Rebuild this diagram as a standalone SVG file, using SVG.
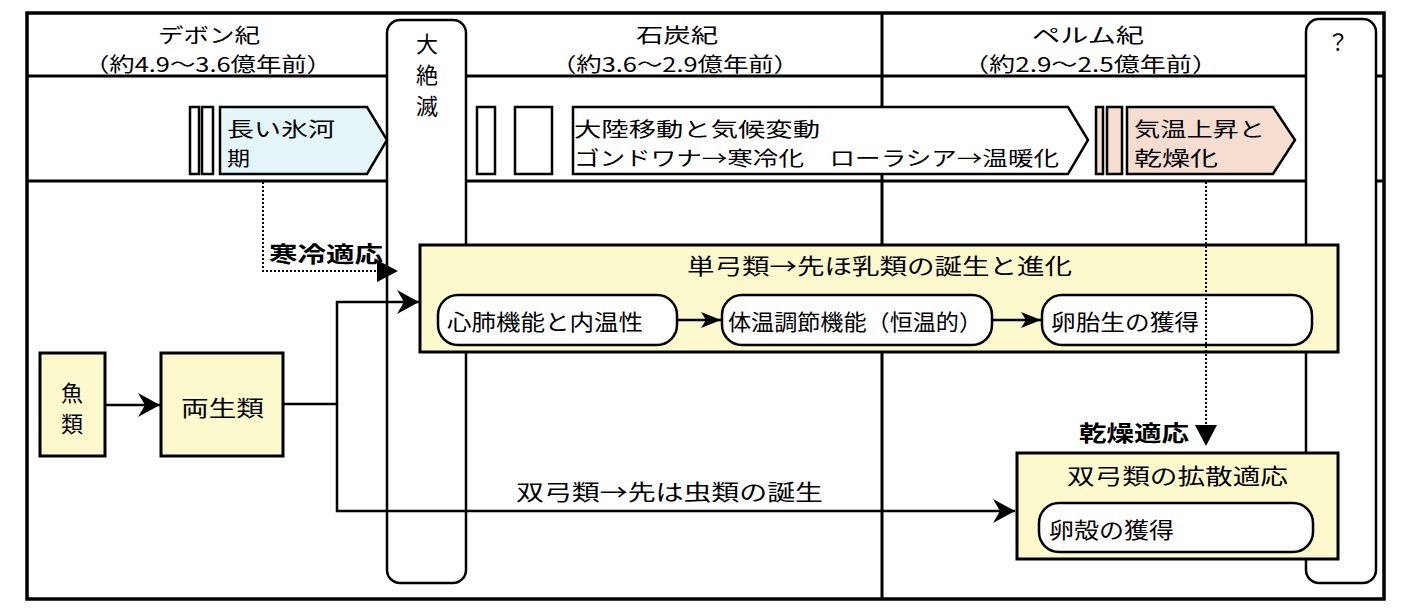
<svg xmlns="http://www.w3.org/2000/svg" width="1403" height="616" viewBox="0 0 1403 616">
<defs>
<style>
text{font-family:"Noto Sans CJK JP","Noto Sans",sans-serif;font-size:22px;fill:#000}
.h{font-size:20px}
.b{font-weight:bold}
.ln{stroke:#000;stroke-width:3;fill:none}
.box{stroke:#000;stroke-width:3;fill:#FCF9CD}
.pill{stroke:#000;stroke-width:2.5;fill:#fff}
.col{stroke:#000;stroke-width:2.5;fill:#fff}
.c{stroke:#000;stroke-width:2.5;fill:none}
.dot{stroke:#000;stroke-width:2;fill:none;stroke-dasharray:2 2}
</style>
<marker id="st" markerUnits="userSpaceOnUse" markerWidth="24" markerHeight="26" refX="22" refY="12" orient="auto">
<path d="M0,0 L22,12 L0,24 L7,12 z" fill="#000"/>
</marker>
<marker id="sts" markerUnits="userSpaceOnUse" markerWidth="22" markerHeight="18" refX="20" refY="8" orient="auto">
<path d="M0,0 L20,8 L0,16 L5,8 z" fill="#000"/>
</marker>
<marker id="tri" markerUnits="userSpaceOnUse" markerWidth="24" markerHeight="24" refX="21" refY="11" orient="auto">
<path d="M0,0 L21,11 L0,22 z" fill="#000"/>
</marker>
</defs>

<g id="frame">
<rect x="27" y="13" width="1357" height="586" fill="#fff" stroke="#000" stroke-width="3.5"/>
<line class="ln" x1="27" y1="76" x2="1384" y2="76"/>
<line class="ln" x1="27" y1="181" x2="1384" y2="181"/>
<line class="ln" x1="882" y1="13" x2="882" y2="599" stroke-width="2.5"/>
</g>

<g id="headers">
<text class="h" x="158" y="43" textLength="102" lengthAdjust="spacingAndGlyphs">デボン紀</text>
<text class="h" x="84" y="72" textLength="248" lengthAdjust="spacingAndGlyphs">（約4.9〜3.6億年前）</text>
<text class="h" x="636" y="43" textLength="82" lengthAdjust="spacingAndGlyphs">石炭紀</text>
<text class="h" x="551" y="72" textLength="248" lengthAdjust="spacingAndGlyphs">（約3.6〜2.9億年前）</text>
<text class="h" x="1032" y="43" textLength="112" lengthAdjust="spacingAndGlyphs">ペルム紀</text>
<text class="h" x="963" y="72" textLength="255" lengthAdjust="spacingAndGlyphs">（約2.9〜2.5億年前）</text>
</g>

<g id="extinction">
<rect class="col" x="387" y="20" width="79" height="563" rx="13"/>
<text x="427" y="52" text-anchor="middle" font-size="21">大</text>
<text x="427" y="83" text-anchor="middle" font-size="21">絶</text>
<text x="427" y="114" text-anchor="middle" font-size="21">滅</text>
</g>

<g id="unknown">
<rect class="col" x="1306" y="19" width="70" height="564" rx="13"/>
<text x="1338" y="50" text-anchor="middle" font-size="22">？</text>
</g>

<g id="ice-age">
<rect x="190" y="107" width="9" height="67" fill="#fff" stroke="#000" stroke-width="2.5"/>
<rect x="202" y="107" width="11" height="67" fill="#fff" stroke="#000" stroke-width="2.5"/>
<polygon points="220,107 367,107 387,140 367,174 220,174" fill="#E5F6FB" stroke="#000" stroke-width="2.5"/>
<text class="h" x="227" y="137" textLength="108" lengthAdjust="spacingAndGlyphs">長い氷河</text>
<text class="h" x="227" y="166" textLength="23" lengthAdjust="spacingAndGlyphs">期</text>
</g>

<g id="continental-drift">
<rect x="477" y="107" width="18" height="67" fill="#fff" stroke="#000" stroke-width="2.5"/>
<rect x="515" y="107" width="37" height="67" fill="#fff" stroke="#000" stroke-width="2.5"/>
<polygon points="573,107 1068,107 1088,140 1068,174 573,174" fill="#fff" stroke="#000" stroke-width="2.5"/>
<text class="h" x="574" y="137" textLength="246" lengthAdjust="spacingAndGlyphs">大陸移動と気候変動</text>
<text class="h" x="574" y="166" textLength="485" lengthAdjust="spacingAndGlyphs">ゴンドワナ→寒冷化　ローラシア→温暖化</text>
</g>

<g id="warming">
<rect x="1096" y="107" width="7" height="67" fill="#F5DDD0" stroke="#000" stroke-width="2.5"/>
<rect x="1107" y="107" width="15" height="67" fill="#F5DDD0" stroke="#000" stroke-width="2.5"/>
<polygon points="1127,107 1273,107 1295,140 1273,174 1127,174" fill="#F5DDD0" stroke="#000" stroke-width="2.5"/>
<text class="h" x="1134" y="137" textLength="131" lengthAdjust="spacingAndGlyphs">気温上昇と</text>
<text class="h" x="1134" y="166" textLength="84" lengthAdjust="spacingAndGlyphs">乾燥化</text>
</g>

<g id="fish">
<rect class="box" x="40" y="353" width="65" height="103"/>
<text x="72" y="401" text-anchor="middle" font-size="21">魚</text>
<text x="72" y="432" text-anchor="middle" font-size="21">類</text>
</g>

<g id="amphibians">
<rect class="box" x="161" y="353" width="122" height="103"/>
<text x="181" y="416" textLength="83" lengthAdjust="spacingAndGlyphs">両生類</text>
</g>

<g id="synapsids">
<rect class="box" x="420" y="245" width="918" height="107"/>
<text x="687" y="274" textLength="385" lengthAdjust="spacingAndGlyphs">単弓類→先ほ乳類の誕生と進化</text>
</g>

<g id="heart-lung">
<rect class="pill" x="438" y="295" width="239" height="50" rx="20"/>
<text x="447" y="330" textLength="196" lengthAdjust="spacingAndGlyphs">心肺機能と内温性</text>
</g>

<g id="thermoregulation">
<rect class="pill" x="722" y="295" width="270" height="50" rx="20"/>
<text x="728" y="330" textLength="254" lengthAdjust="spacingAndGlyphs">体温調節機能（恒温的）</text>
</g>

<g id="ovoviviparity">
<rect class="pill" x="1042" y="295" width="270" height="50" rx="20"/>
<text x="1051" y="330" textLength="148" lengthAdjust="spacingAndGlyphs">卵胎生の獲得</text>
</g>

<g id="diapsids">
<rect class="box" x="1017" y="453" width="321" height="106"/>
<text x="1067" y="484" textLength="221" lengthAdjust="spacingAndGlyphs">双弓類の拡散適応</text>
</g>

<g id="eggshell">
<rect class="pill" x="1039" y="503" width="274" height="49" rx="20"/>
<text x="1049" y="538" textLength="125" lengthAdjust="spacingAndGlyphs">卵殻の獲得</text>
</g>

<g id="connectors">
<polyline class="dot" points="263,182 263,271 398,271" marker-end="url(#tri)"/>
<line class="dot" x1="1206" y1="182" x2="1206" y2="446" marker-end="url(#tri)"/>
<line class="c" x1="105" y1="405" x2="160" y2="405" marker-end="url(#st)"/>
<polyline class="c" points="283,404 337,404 337,511 1015,511" marker-end="url(#st)"/>
<polyline class="c" points="337,404 337,302 419,302" marker-end="url(#st)"/>
<line class="c" x1="677" y1="320" x2="721" y2="320" marker-end="url(#sts)"/>
<line class="c" x1="992" y1="320" x2="1041" y2="320" marker-end="url(#sts)"/>
</g>

<g id="labels">
<text class="b" x="269" y="262" textLength="114" lengthAdjust="spacingAndGlyphs">寒冷適応</text>
<text class="b" x="1079" y="441" textLength="110" lengthAdjust="spacingAndGlyphs">乾燥適応</text>
<text x="516" y="500" textLength="307" lengthAdjust="spacingAndGlyphs">双弓類→先は虫類の誕生</text>
</g>
</svg>
